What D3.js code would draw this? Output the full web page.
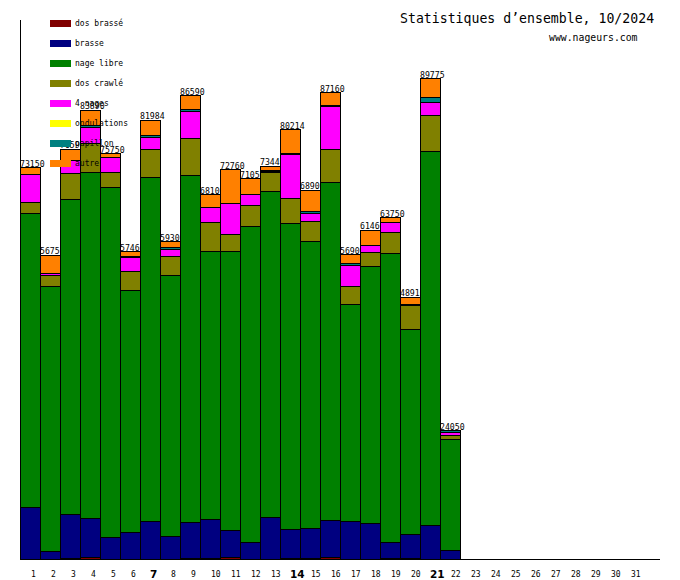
<!DOCTYPE html>
<html>
<head>
<meta charset="utf-8">
<script src="https://cdn.jsdelivr.net/npm/d3@7"></script>
<style>
  body { margin: 0; background: #fff; }
  svg { display: block; }
  text { font-family: "DejaVu Sans Mono", monospace; fill: #000; }
</style>
</head>
<body>
<svg id="chart" width="680" height="580"></svg>
<script>
// days of the month
var days = d3.range(1, 32);
var boldDays = [7, 14, 21];

// metres per day and per stroke (days 1..22)
var dosBrasse   = [0, 0, 190, 370, 0, 0, 0, 0, 200, 190, 340, 0, 0, 190, 190, 340, 0, 0, 220, 220, 0, 0];
var brasse      = [9700, 1500, 8120, 7360, 4150, 4950, 7132, 4260, 6720, 7280, 5120, 3210, 7880, 5450, 5640, 6980, 7130, 6630, 2990, 4480, 6254, 1720];
var nageLibre   = [54870, 49470, 58950, 64540, 65250, 45170, 64213, 48770, 64680, 50080, 51990, 58880, 60800, 57057, 53530, 63060, 40440, 48110, 53820, 38220, 69838, 20600];
var dosCrawle   = [2050, 2110, 4850, 5410, 2800, 3550, 5228, 3550, 6910, 5410, 3170, 3920, 3600, 4667, 3730, 6160, 3360, 2610, 3920, 4400, 6833, 750];
var quatreNages = [5230, 370, 2390, 2910, 2800, 2670, 2166, 1310, 5040, 2730, 5790, 2050, 0, 8270, 1490, 7950, 4030, 1310, 1870, 280, 2427, 610];
var ondulations = [0, 0, 0, 0, 0, 130, 0, 0, 0, 100, 0, 0, 150, 100, 80, 150, 0, 0, 0, 0, 0, 0];
var papillon    = [0, 0, 0, 370, 0, 0, 370, 370, 370, 0, 0, 0, 150, 0, 370, 150, 370, 0, 0, 0, 820, 370];
var autre       = [1300, 3300, 2090, 2930, 750, 990, 2875, 1040, 2670, 2310, 6350, 2990, 860, 4480, 3870, 2370, 1570, 2800, 930, 1310, 3603, 0];

// totals written above each bar
var totals = [73150, 56750, 76590, 83890, 75750, 57460, 81984, 59300, 86590, 68100, 72760, 71050, 73440, 80214, 68900, 87160, 56900, 61460, 63750, 48910, 89775, 24050];

var seriesNames = ["dos brassé", "brasse", "nage libre", "dos crawlé", "4 nages", "ondulations", "papillon", "autre"];
var seriesValues = [dosBrasse, brasse, nageLibre, dosCrawle, quatreNages, ondulations, papillon, autre];
var seriesColors = ["#800000", "#000080", "#008000", "#808000", "#ff00ff", "#ffff00", "#008080", "#ff8000"];

var svg = d3.select("#chart");

var x = d3.scaleBand().domain(days).range([20, 640]).padding(0);
var y = d3.scaleLinear().domain([0, 100700]).range([559.5, 20]);

// table for the stack
var rows = totals.map(function(t, i){
  var r = { day: i + 1 };
  seriesNames.forEach(function(n, j){ r[n] = seriesValues[j][i]; });
  return r;
});
var stacked = d3.stack().keys(seriesNames)(rows);

// title
svg.append("text")
  .attr("x", 400).attr("y", 23)
  .style("font-size", "13.2px")
  .text("Statistiques d\u2019ensemble, 10/2024");
svg.append("text")
  .attr("x", 549).attr("y", 41)
  .style("font-size", "9.8px")
  .text("www.nageurs.com");

// totals above the bars (drawn first, bars may hide them)
svg.append("g").selectAll("text")
  .data(totals)
  .enter().append("text")
  .attr("x", function(d, i){ return x(i + 1); })
  .attr("y", function(d){ return y(d) - 1; })
  .style("font-size", "8.2px")
  .text(function(d){ return d; });

// bars
var bars = svg.append("g").attr("shape-rendering", "crispEdges");
stacked.forEach(function(s, j){
  bars.selectAll(".seg-" + j)
    .data(s.filter(function(d){ return d[1] - d[0] > 0; }))
    .enter().append("rect")
    .attr("class", "seg-" + j)
    .attr("x", function(d){ return x(d.data.day) + 0.5; })
    .attr("width", x.bandwidth())
    .attr("y", function(d){ return y(d[1]); })
    .attr("height", function(d){ return y(d[0]) - y(d[1]); })
    .attr("fill", seriesColors[j])
    .attr("stroke", "#000")
    .attr("stroke-width", 1);
});

// axes lines
svg.append("line").attr("x1", 20.5).attr("x2", 20.5).attr("y1", 20).attr("y2", 560)
  .attr("stroke", "#000");
svg.append("line").attr("x1", 20).attr("x2", 660).attr("y1", 559.5).attr("y2", 559.5)
  .attr("stroke", "#000");

// day labels
svg.append("g").selectAll("text")
  .data(days)
  .enter().append("text")
  .attr("x", function(d){ return x(d) + x.bandwidth() / 2 + (boldDays.indexOf(d) >= 0 ? 0 : 1); })
  .attr("y", function(d){ return boldDays.indexOf(d) >= 0 ? 577.5 : 576.5; })
  .style("font-size", function(d){ return boldDays.indexOf(d) >= 0 ? "10.5px" : "8px"; })
  .style("font-family", function(d){ return boldDays.indexOf(d) >= 0 ? "DejaVu Sans" : null; })
  .style("font-weight", function(d){ return boldDays.indexOf(d) >= 0 ? "bold" : "normal"; })
  .text(function(d){ return d; });

// legend on top
var legend = svg.append("g");
seriesNames.forEach(function(n, j){
  legend.append("rect")
    .attr("x", 50).attr("y", 20 + j * 20)
    .attr("width", 21).attr("height", 7)
    .attr("fill", seriesColors[j]);
  legend.append("text")
    .attr("x", 75).attr("y", 26 + j * 20)
    .style("font-size", "8px")
    .text(n);
});
</script>
</body>
</html>
